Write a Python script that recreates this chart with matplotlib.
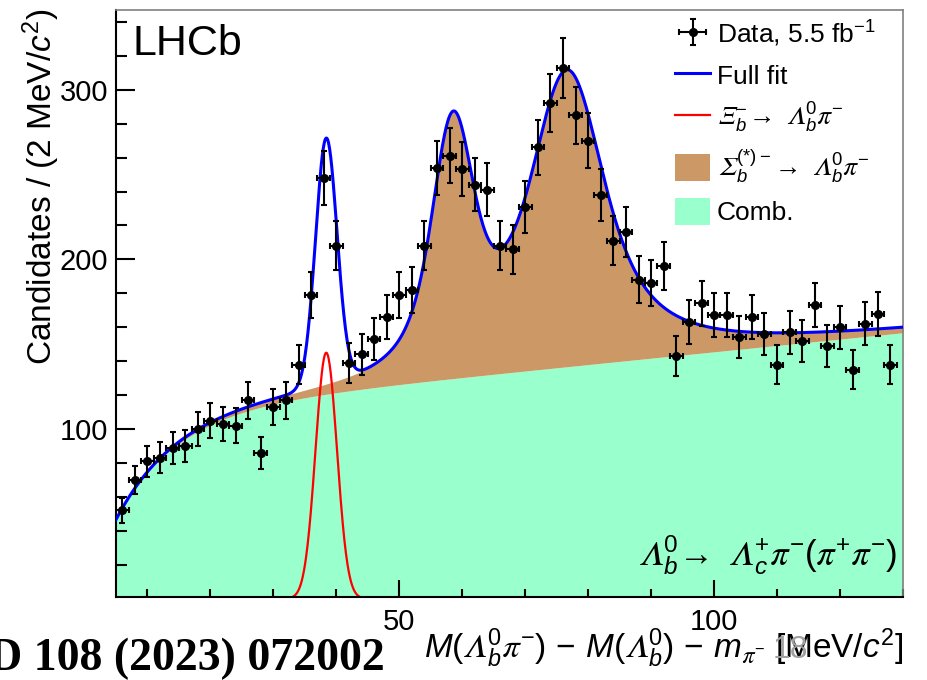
import numpy as np
import matplotlib
matplotlib.use("Agg")
from matplotlib import pyplot as plt
from matplotlib.patches import Patch
from matplotlib.lines import Line2D

plt.rcParams.update({
    'font.family': 'Liberation Sans',
    'mathtext.fontset': 'custom',
    'mathtext.rm': 'Liberation Sans',
    'mathtext.it': 'Liberation Sans:italic',
    'mathtext.bf': 'Liberation Sans:bold',
    'mathtext.fallback': 'stix',
})

# 2 MeV bins of M(Lb pi) - M(Lb) - m_pi
bin_width = 2.0
dm_centres = np.arange(6, 129, 2)
counts = np.array([
    52, 70, 81, 83, 89, 90, 100, 105, 103, 102,
    117, 86, 113, 117, 138, 179, 248, 208, 139, 144,
    153, 166, 179, 182, 208, 254, 261, 253, 244, 241,
    208, 206, 231, 266, 292, 313, 285, 270, 238, 211,
    216, 188, 186, 196, 143, 163, 174, 167, 167, 154,
    166, 156, 138, 157, 152, 173, 149, 160, 135, 162,
    168, 138])
count_err = np.sqrt(counts)

# fit components (per 2 MeV)
comb_norm, comb_slope, comb_scale = 108.0, 0.375, 9.5
xi_mass, xi_sigma, xi_height = 38.4, 1.7, 145.0
xi_draw_range = (26.0, 51.0)
sigma_masses = [58.4, 76.5]
sigma_gammas = [2.8, 5.6]
sigma_res = [1.9, 2.8]
sigma_heights = [141.0, 170.0]
q_power = 0.5

lhcb_blue = '#0000ff'
comb_green = '#99ffcc'
sigma_brown = '#cc9966'


def voigt_shape(x, mass, gamma, sigma):
    # Lorentzian smeared by a gaussian resolution, unit height at the pole
    t = np.linspace(-5 * sigma, 5 * sigma, 201)
    w = np.exp(-0.5 * (t / sigma) ** 2)
    w /= w.sum()
    lor = gamma ** 2 / ((x[:, None] - mass - t[None, :]) ** 2 + gamma ** 2)
    peak = (gamma ** 2 / (t ** 2 + gamma ** 2) * w).sum()
    return (lor * w).sum(axis=1) / peak


x = np.linspace(5, 130, 1500)
comb = comb_norm * (1 - np.exp(-x / comb_scale)) + comb_slope * x
sig = np.zeros_like(x)
for m, g, s, h in zip(sigma_masses, sigma_gammas, sigma_res, sigma_heights):
    sig += h * voigt_shape(x, m, g, s) * (x / m) ** q_power
xi = xi_height * np.exp(-0.5 * ((x - xi_mass) / xi_sigma) ** 2)
full = comb + sig + xi

fig = plt.figure(figsize=(9.27, 6.8), dpi=100)
ax = fig.add_axes([0.1251, 0.1221, 0.8490, 0.8632])

ax.fill_between(x, 0, comb, color=comb_green, lw=0, zorder=1)
ax.fill_between(x, comb, comb + sig, color=sigma_brown, lw=0, zorder=1)
in_xi = (x >= xi_draw_range[0]) & (x <= xi_draw_range[1])
ax.plot(x[in_xi], xi[in_xi], color='#ff0000', lw=1.6, zorder=2)
ax.plot(x, full, color=lhcb_blue, lw=2.2, zorder=3)
data = ax.errorbar(dm_centres, counts, xerr=bin_width / 2, yerr=count_err,
                   fmt='o', color='black', ms=5.5, elinewidth=1.5,
                   capsize=2.5, capthick=1.5, zorder=4)

ax.set_xlim(5, 130)
ax.set_ylim(1, 347)
ax.set_xticks([50, 100])
ax.set_xticks(np.arange(10, 131, 10), minor=True)
ax.set_yticks([100, 200, 300])
ax.set_yticks(np.arange(20, 347, 20), minor=True)
ax.tick_params(axis='both', which='both', direction='in', top=False, right=False,
               labelsize=21, width=1.5)
ax.tick_params(axis='y', which='major', length=14, pad=5.5)
ax.tick_params(axis='y', which='minor', length=8)
ax.tick_params(axis='x', which='major', length=12, pad=8)
ax.tick_params(axis='x', which='minor', length=6)
for side in ['left', 'bottom']:
    ax.spines[side].set_linewidth(1.5)
for side in ['top', 'right']:
    ax.spines[side].set_linewidth(1.2)
    ax.spines[side].set_color('#808080')

ax.set_ylabel('Candidates / (2 MeV/$c^{2}$)', fontsize=24, loc='top')
ax.yaxis.set_label_coords(-0.069, 1.003)
ax.set_xlabel(r'$M(𝛬_b^{0}𝜋^{-})\,-\,M(𝛬_b^{0})\,-\,m_{𝜋^{-}}$ [MeV/$c^{2}$]',
              fontsize=24, loc='right')
ax.xaxis.set_label_coords(1.0, -0.05)

ax.text(0.0216, 0.923, 'LHCb', transform=ax.transAxes, fontsize=31,
        ha='left', va='baseline')
ax.text(0.992, 0.0545, r'$𝛬_b^{0}\!\rightarrow\ 𝛬_c^{+}𝜋^{-}(𝜋^{+}𝜋^{-})$',
        transform=ax.transAxes, fontsize=25, ha='right', va='baseline')

handles = [
    data,
    Line2D([], [], color=lhcb_blue, lw=2.2),
    Line2D([], [], color='#ff0000', lw=1.6),
    Patch(facecolor=sigma_brown),
    Patch(facecolor=comb_green),
]
labels = [
    'Data, 5.5 fb$^{-1}$',
    'Full fit',
    r'$𝛯_b^{-}\!\rightarrow\ 𝛬_b^{0}𝜋^{-}$',
    r'$𝛴_b^{(*)-}\!\rightarrow\ 𝛬_b^{0}𝜋^{-}$',
    'Comb.',
]
ax.legend(handles, labels, loc='upper left', bbox_to_anchor=(0.710, 0.985),
          frameon=False, fontsize=19, borderpad=0, borderaxespad=0,
          handlelength=1.35, handleheight=1.2, handletextpad=0.25,
          labelspacing=0.47)

fig.text(773 / 927, 22 / 680, '18', fontsize=23, color='#a0a0a0', zorder=5)
fig.text(385 / 927, 10 / 680, 'PRD 108 (2023) 072002', fontsize=33,
         family='Liberation Serif', weight='bold', ha='right', va='baseline')

fig.savefig('out.png', dpi=100)
